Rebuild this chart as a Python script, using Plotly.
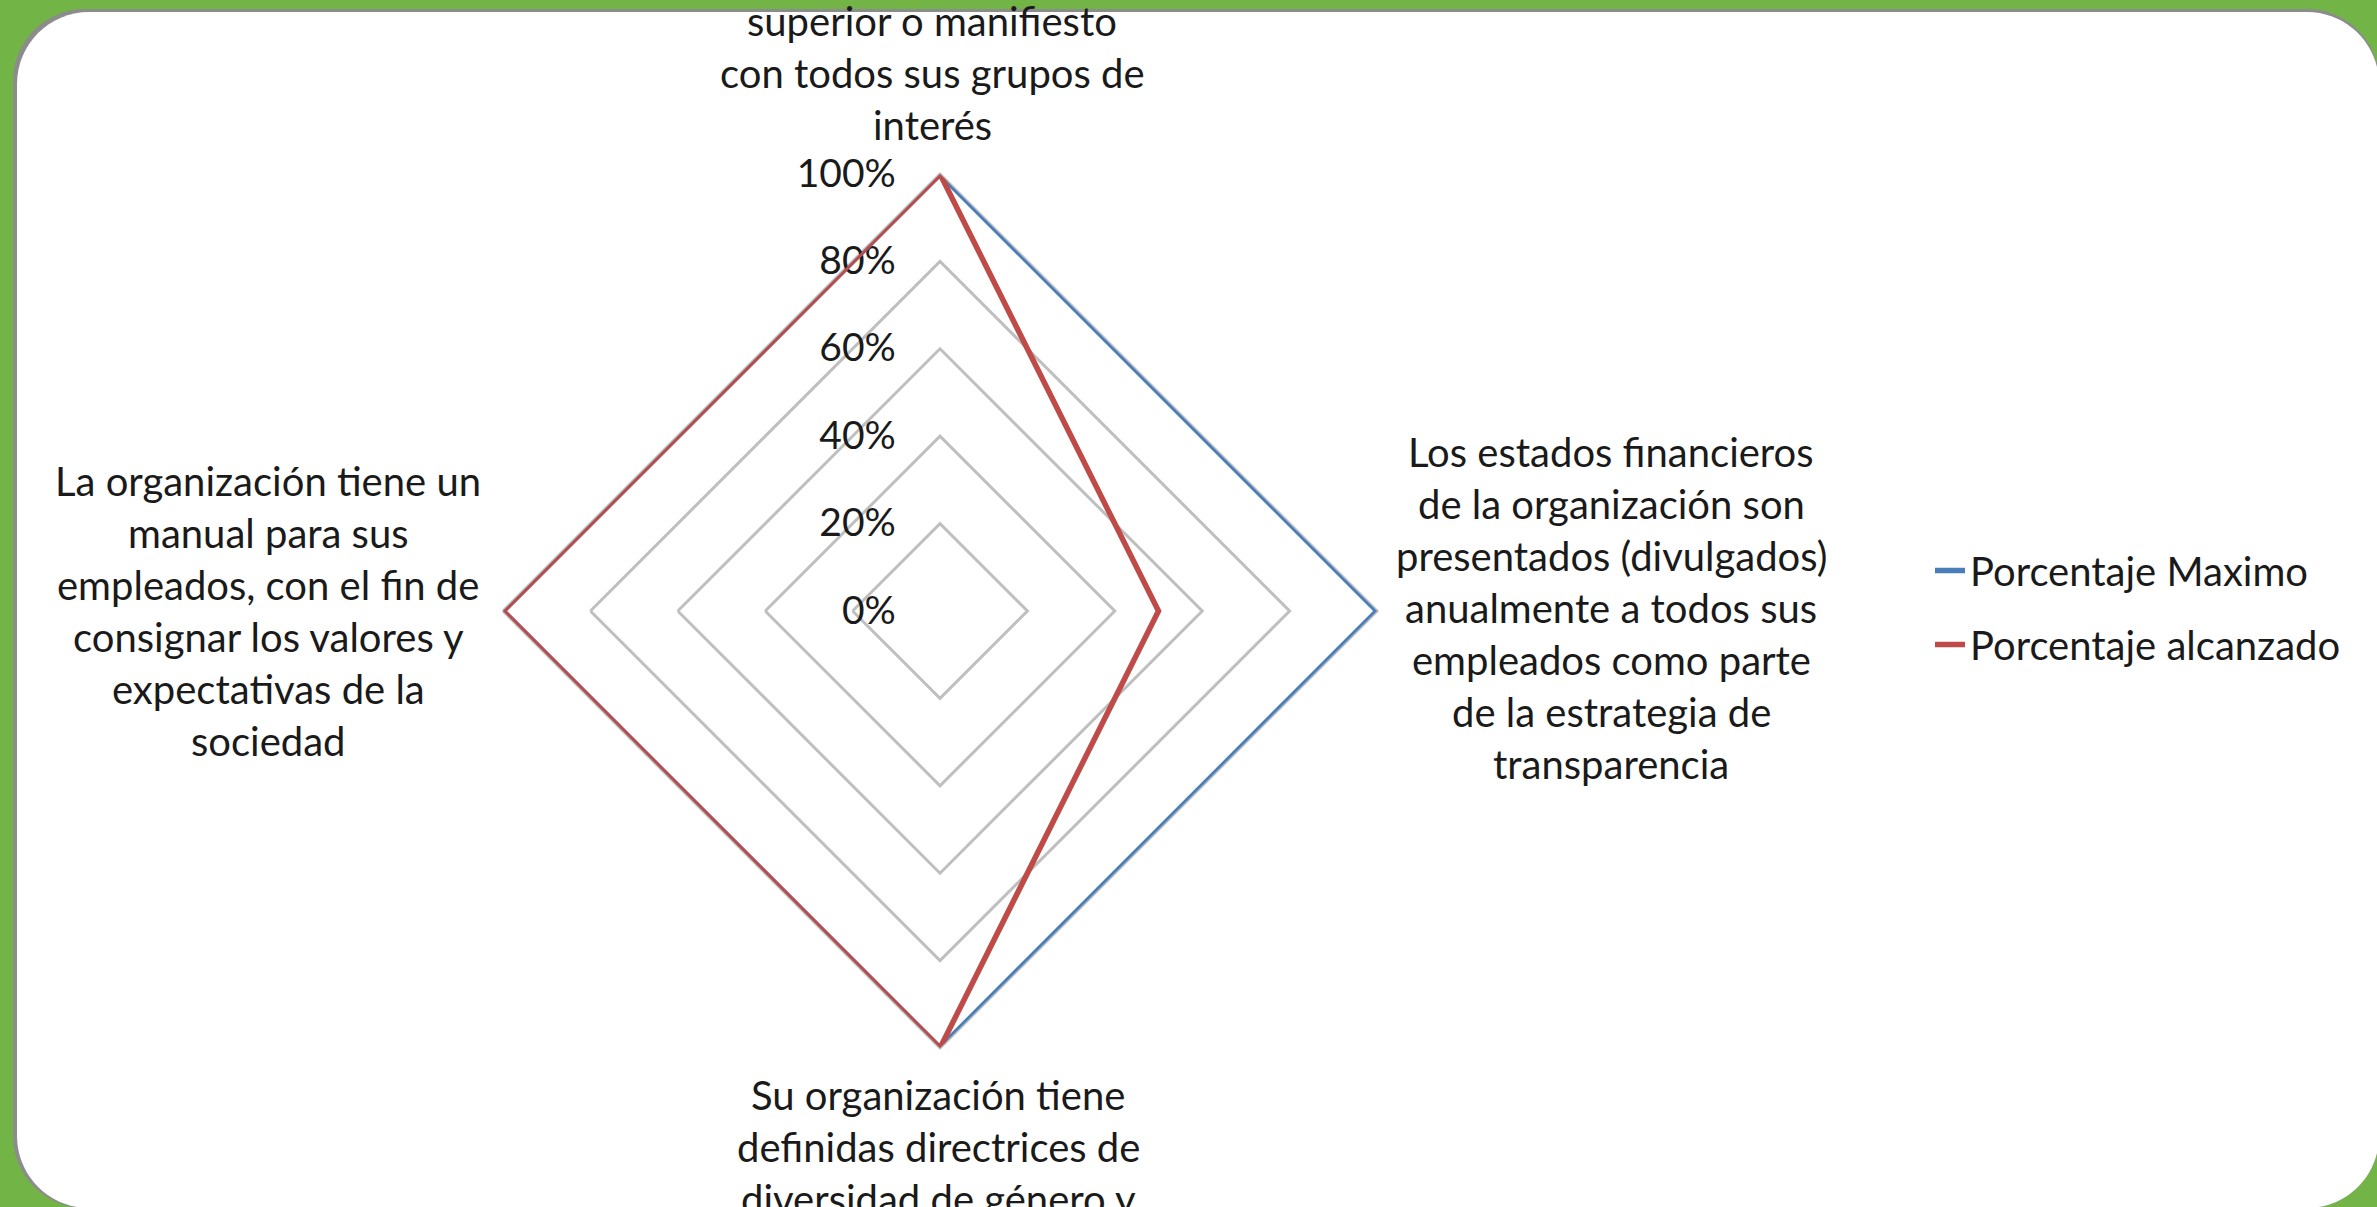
import plotly.graph_objects as go

# ---------------- data ----------------
CATEGORIES = [
    "superior o manifiesto<br>con todos sus grupos de<br>interés",
    "Los estados financieros<br>de la organización son<br>presentados (divulgados)<br>anualmente a todos sus<br>empleados como parte<br>de la estrategia de<br>transparencia",
    "Su organización tiene<br>definidas directrices de<br>diversidad de género y",
    "La organización tiene un<br>manual para sus<br>empleados, con el fin de<br>consignar los valores y<br>expectativas de la<br>sociedad",
]
SERIES_NAMES = ["Porcentaje Maximo", "Porcentaje alcanzado"]
PORCENTAJE_MAXIMO = [1.0, 1.0, 1.0, 1.0]
PORCENTAJE_ALCANZADO = [1.0, 0.5, 1.0, 1.0]
RADIAL_TICKVALS = [0, 0.2, 0.4, 0.6, 0.8, 1.0]
RADIAL_TICKTEXT = ["0%", "20%", "40%", "60%", "80%", "100%"]

# ---------------- style ----------------
W, H = 2377, 1207
FONT = "Lato, 'Liberation Sans', Arial, sans-serif"
GREEN = "#73B446"
BLUE = "#4A7EBB"
RED = "#BE4B48"
GRID = "#BFBFBF"
TEXT = "#1a1a1a"
LABEL_SIZE = 40

CX, CY, R = 940, 611, 437  # polar centre / radius in px
LINE_GAP = 52
# (centre x, first line centre y) in px for each category label
LABEL_POS = [(932, 21), (1611, 452), (938, 1095), (268, 481)]


def fx(px):
    return px / W


def fy(py):
    return 1 - py / H


def rounded_rect(x0, y0, x1, y1, r):
    k = 0.5523 * r

    def p(x, y):
        return f"{fx(x):.6f},{fy(y):.6f}"
    s = f"M {p(x0 + r, y0)} L {p(x1 - r, y0)} "
    s += f"C {p(x1 - r + k, y0)} {p(x1, y0 + r - k)} {p(x1, y0 + r)} "
    s += f"L {p(x1, y1 - r)} "
    s += f"C {p(x1, y1 - r + k)} {p(x1 - r + k, y1)} {p(x1 - r, y1)} "
    s += f"L {p(x0 + r, y1)} "
    s += f"C {p(x0 + r - k, y1)} {p(x0, y1 - r + k)} {p(x0, y1 - r)} "
    s += f"L {p(x0, y0 + r)} "
    s += f"C {p(x0, y0 + r - k)} {p(x0 + r - k, y0)} {p(x0 + r, y0)} Z"
    return s


fig = go.Figure()

for name, vals, col in [(SERIES_NAMES[0], PORCENTAJE_MAXIMO, BLUE),
                        (SERIES_NAMES[1], PORCENTAJE_ALCANZADO, RED)]:
    fig.add_trace(go.Scatterpolar(
        r=vals + vals[:1],
        theta=CATEGORIES + CATEGORIES[:1],
        mode="lines",
        name=name,
        legendgroup=name,
        line=dict(color=col, width=5.5),
        hoverinfo="skip",
    ))

fig.update_layout(
    width=W, height=H, autosize=False,
    margin=dict(l=0, r=0, t=0, b=0, pad=0),
    paper_bgcolor=GREEN,
    font=dict(family=FONT, color=TEXT, size=LABEL_SIZE),
    polar=dict(
        domain=dict(x=[fx(CX - R), fx(CX + R)], y=[fy(CY + R), fy(CY - R)]),
        bgcolor="rgba(0,0,0,0)",
        gridshape="linear",
        angularaxis=dict(
            rotation=90, direction="clockwise",
            categoryorder="array", categoryarray=CATEGORIES,
            showticklabels=False, ticks="", showgrid=False,
            showline=True, linecolor=GRID, linewidth=3,
            layer="below traces",
        ),
        radialaxis=dict(
            range=[0, 1], angle=90, side="counterclockwise",
            tickvals=RADIAL_TICKVALS, ticktext=RADIAL_TICKTEXT,
            tickfont=dict(family=FONT, size=39, color=TEXT),
            ticks="outside", ticklen=30, tickcolor="rgba(0,0,0,0)",
            showline=False, gridcolor=GRID, gridwidth=3,
            tickangle=90, layer="below traces",
        ),
    ),
    legend=dict(
        x=fx(1930), y=fy(538), xanchor="left", yanchor="top",
        bgcolor="rgba(0,0,0,0)", font=dict(family=FONT, size=LABEL_SIZE, color=TEXT),
        traceorder="grouped", tracegroupgap=19,
    ),
    showlegend=True,
    shapes=[
        dict(type="path", xref="paper", yref="paper", layer="below",
             path=rounded_rect(13, 9, 2377 + 2, 1208, 72),
             fillcolor="#8C8C8C", line=dict(width=0)),
        dict(type="path", xref="paper", yref="paper", layer="below",
             path=rounded_rect(17, 12, 2377 + 2, 1208, 72),
             fillcolor="white", line=dict(width=0)),
    ],
)

annotations = []
for cat, (ax, ay) in zip(CATEGORIES, LABEL_POS):
    for i, line in enumerate(cat.split("<br>")):
        annotations.append(dict(
            text=line, x=fx(ax), y=fy(ay + i * LINE_GAP),
            xref="paper", yref="paper", xanchor="center", yanchor="middle",
            showarrow=False, font=dict(family=FONT, size=LABEL_SIZE, color=TEXT),
        ))
fig.update_layout(annotations=annotations)

fig.write_html(
    "out.html",
    config={"displayModeBar": False},
    post_script="document.body.style.margin='0';document.body.style.overflow='hidden';",
)
